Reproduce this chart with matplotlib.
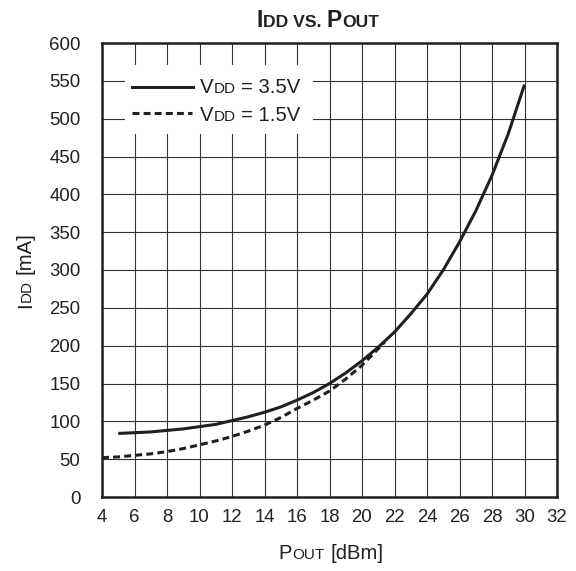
import matplotlib
matplotlib.use("Agg")
import matplotlib.pyplot as plt
from matplotlib.font_manager import FontProperties
from matplotlib.transforms import offset_copy
from matplotlib.patches import Rectangle

plt.rcParams['font.family'] = ['Liberation Sans', 'DejaVu Sans']
plt.rcParams['lines.scale_dashes'] = False

# ---- data ----
p_out_35 = [5, 6, 7, 8, 9, 10, 11, 12, 13, 14, 15, 16, 17, 18, 19, 20, 21, 22, 23, 24, 25, 26, 27, 28, 29, 30]
idd_35 = [84, 85, 86, 88, 90, 93, 96, 101, 106, 112, 119, 128, 138, 150, 164, 180, 198, 218, 242, 268, 300, 337, 378, 425, 480, 545]
p_out_15 = [4, 5, 6, 7, 8, 9, 10, 11, 12, 13, 14, 15, 16, 17, 18, 19, 20, 21, 21.4]
idd_15 = [52, 53, 55, 57, 60, 64, 69, 74, 80, 87, 95, 105, 117, 128, 140, 156, 174, 196, 205]
x_ticks = list(range(4, 33, 2))
y_ticks = list(range(0, 601, 50))
legend_labels = [("V", "DD", " = 3.5V"), ("V", "DD", " = 1.5V")]

W, H = 576, 571
fig = plt.figure(figsize=(W / 100, H / 100), dpi=100)
ax = fig.add_axes([102 / W, 1 - 497 / H, 455 / W, 454 / H])

ink = '#231f20'
ax.plot(p_out_35, idd_35, color=ink, lw=2.2, solid_capstyle='butt', zorder=3)
ax.plot(p_out_15, idd_15, color=ink, lw=2.2, dashes=(5, 3), zorder=3)

ax.set_xlim(4, 32)
ax.set_ylim(0, 600)
ax.set_xticks(x_ticks)
ax.set_yticks(y_ticks)
ax.tick_params(length=0, labelsize=13.4, colors='#231f20')
ax.tick_params(axis='y', pad=15.5)
ax.tick_params(axis='x', pad=9)
ax.grid(True, color='#333333', lw=0.8)
ax.set_axisbelow(True)
for s in ax.spines.values():
    s.set_linewidth(1.8)
    s.set_color(ink)
    s.set_zorder(5)

renderer = fig.canvas.get_renderer()


def text_w(s, size, weight):
    fp = FontProperties(family='Liberation Sans', size=size, weight=weight)
    w, h, d = renderer.get_text_width_height_descent(s, fp, ismath=False)
    return w


def space_w(size, weight):
    return text_w("a a", size, weight) - text_w("aa", size, weight)


def rich(px, py, pieces, ha='left', rotation=0, zorder=6):
    # pieces: list of (text, size, weight); px, py in image pixels (top-left origin)
    widths = []
    for t, sz, wt in pieces:
        lead = len(t) - len(t.lstrip(' '))
        trail = len(t) - len(t.rstrip(' '))
        core = t.strip(' ')
        sw = space_w(sz, wt)
        widths.append((lead * sw, text_w(core, sz, wt) if core else 0, trail * sw, core))
    total = sum(a + b + c for a, b, c, _ in widths)
    pos = -total / 2 if ha == 'center' else 0
    base = fig.transFigure
    fx, fy = px / W, 1 - py / H
    for (t, sz, wt), (a, b, c, core) in zip(pieces, widths):
        pos += a
        if core:
            if rotation == 0:
                tr = offset_copy(base, fig=fig, x=pos, y=0, units='dots')
            else:
                tr = offset_copy(base, fig=fig, x=0, y=pos, units='dots')
            fig.text(fx, fy, core, transform=tr, fontsize=sz, fontweight=wt,
                     ha='left', va='baseline', rotation=rotation,
                     rotation_mode='anchor', color=ink, zorder=zorder)
        pos += b + c


# title
big, small = 16.5, 12.6
rich(318, 27, [("I", big, 'bold'), ("DD VS. ", small, 'bold'), ("P", big, 'bold'), ("OUT", small, 'bold')], ha='center')
# x label
lb, ls = 14.6, 11
rich(331, 559, [("P", lb, 'normal'), ("OUT", ls, 'normal'), (" [dBm]", lb, 'normal')], ha='center')
# y label
rich(31, 270, [("I", lb, 'normal'), ("DD", ls, 'normal'), (" [mA]", lb, 'normal')], ha='center', rotation=90)

# legend
def ax_frac(px, py):
    return (px - 102) / 455, (497 - py) / 454

x0, y0 = ax_frac(125, 134)
x1, y1 = ax_frac(313, 65)
ax.add_patch(Rectangle((x0, y0), x1 - x0, y1 - y0, transform=ax.transAxes,
                       facecolor='white', edgecolor='none', zorder=2))
lx0, ly = ax_frac(132, 87)
lx1, _ = ax_frac(193, 87)
ax.plot([lx0, lx1], [ly, ly], transform=ax.transAxes, color=ink, lw=2.2, zorder=4)
lx0, ly2 = ax_frac(132, 113)
lx1, _ = ax_frac(192, 113)
ax.plot([lx0, lx1], [ly2, ly2], transform=ax.transAxes, color=ink, lw=2.2, dashes=(5, 3), zorder=4)
for (a, b, c), yy in zip(legend_labels, [93, 121]):
    rich(200, yy, [(a, lb, 'normal'), (b, ls, 'normal'), (c, lb, 'normal')])

fig.savefig("out.png", dpi=100)
